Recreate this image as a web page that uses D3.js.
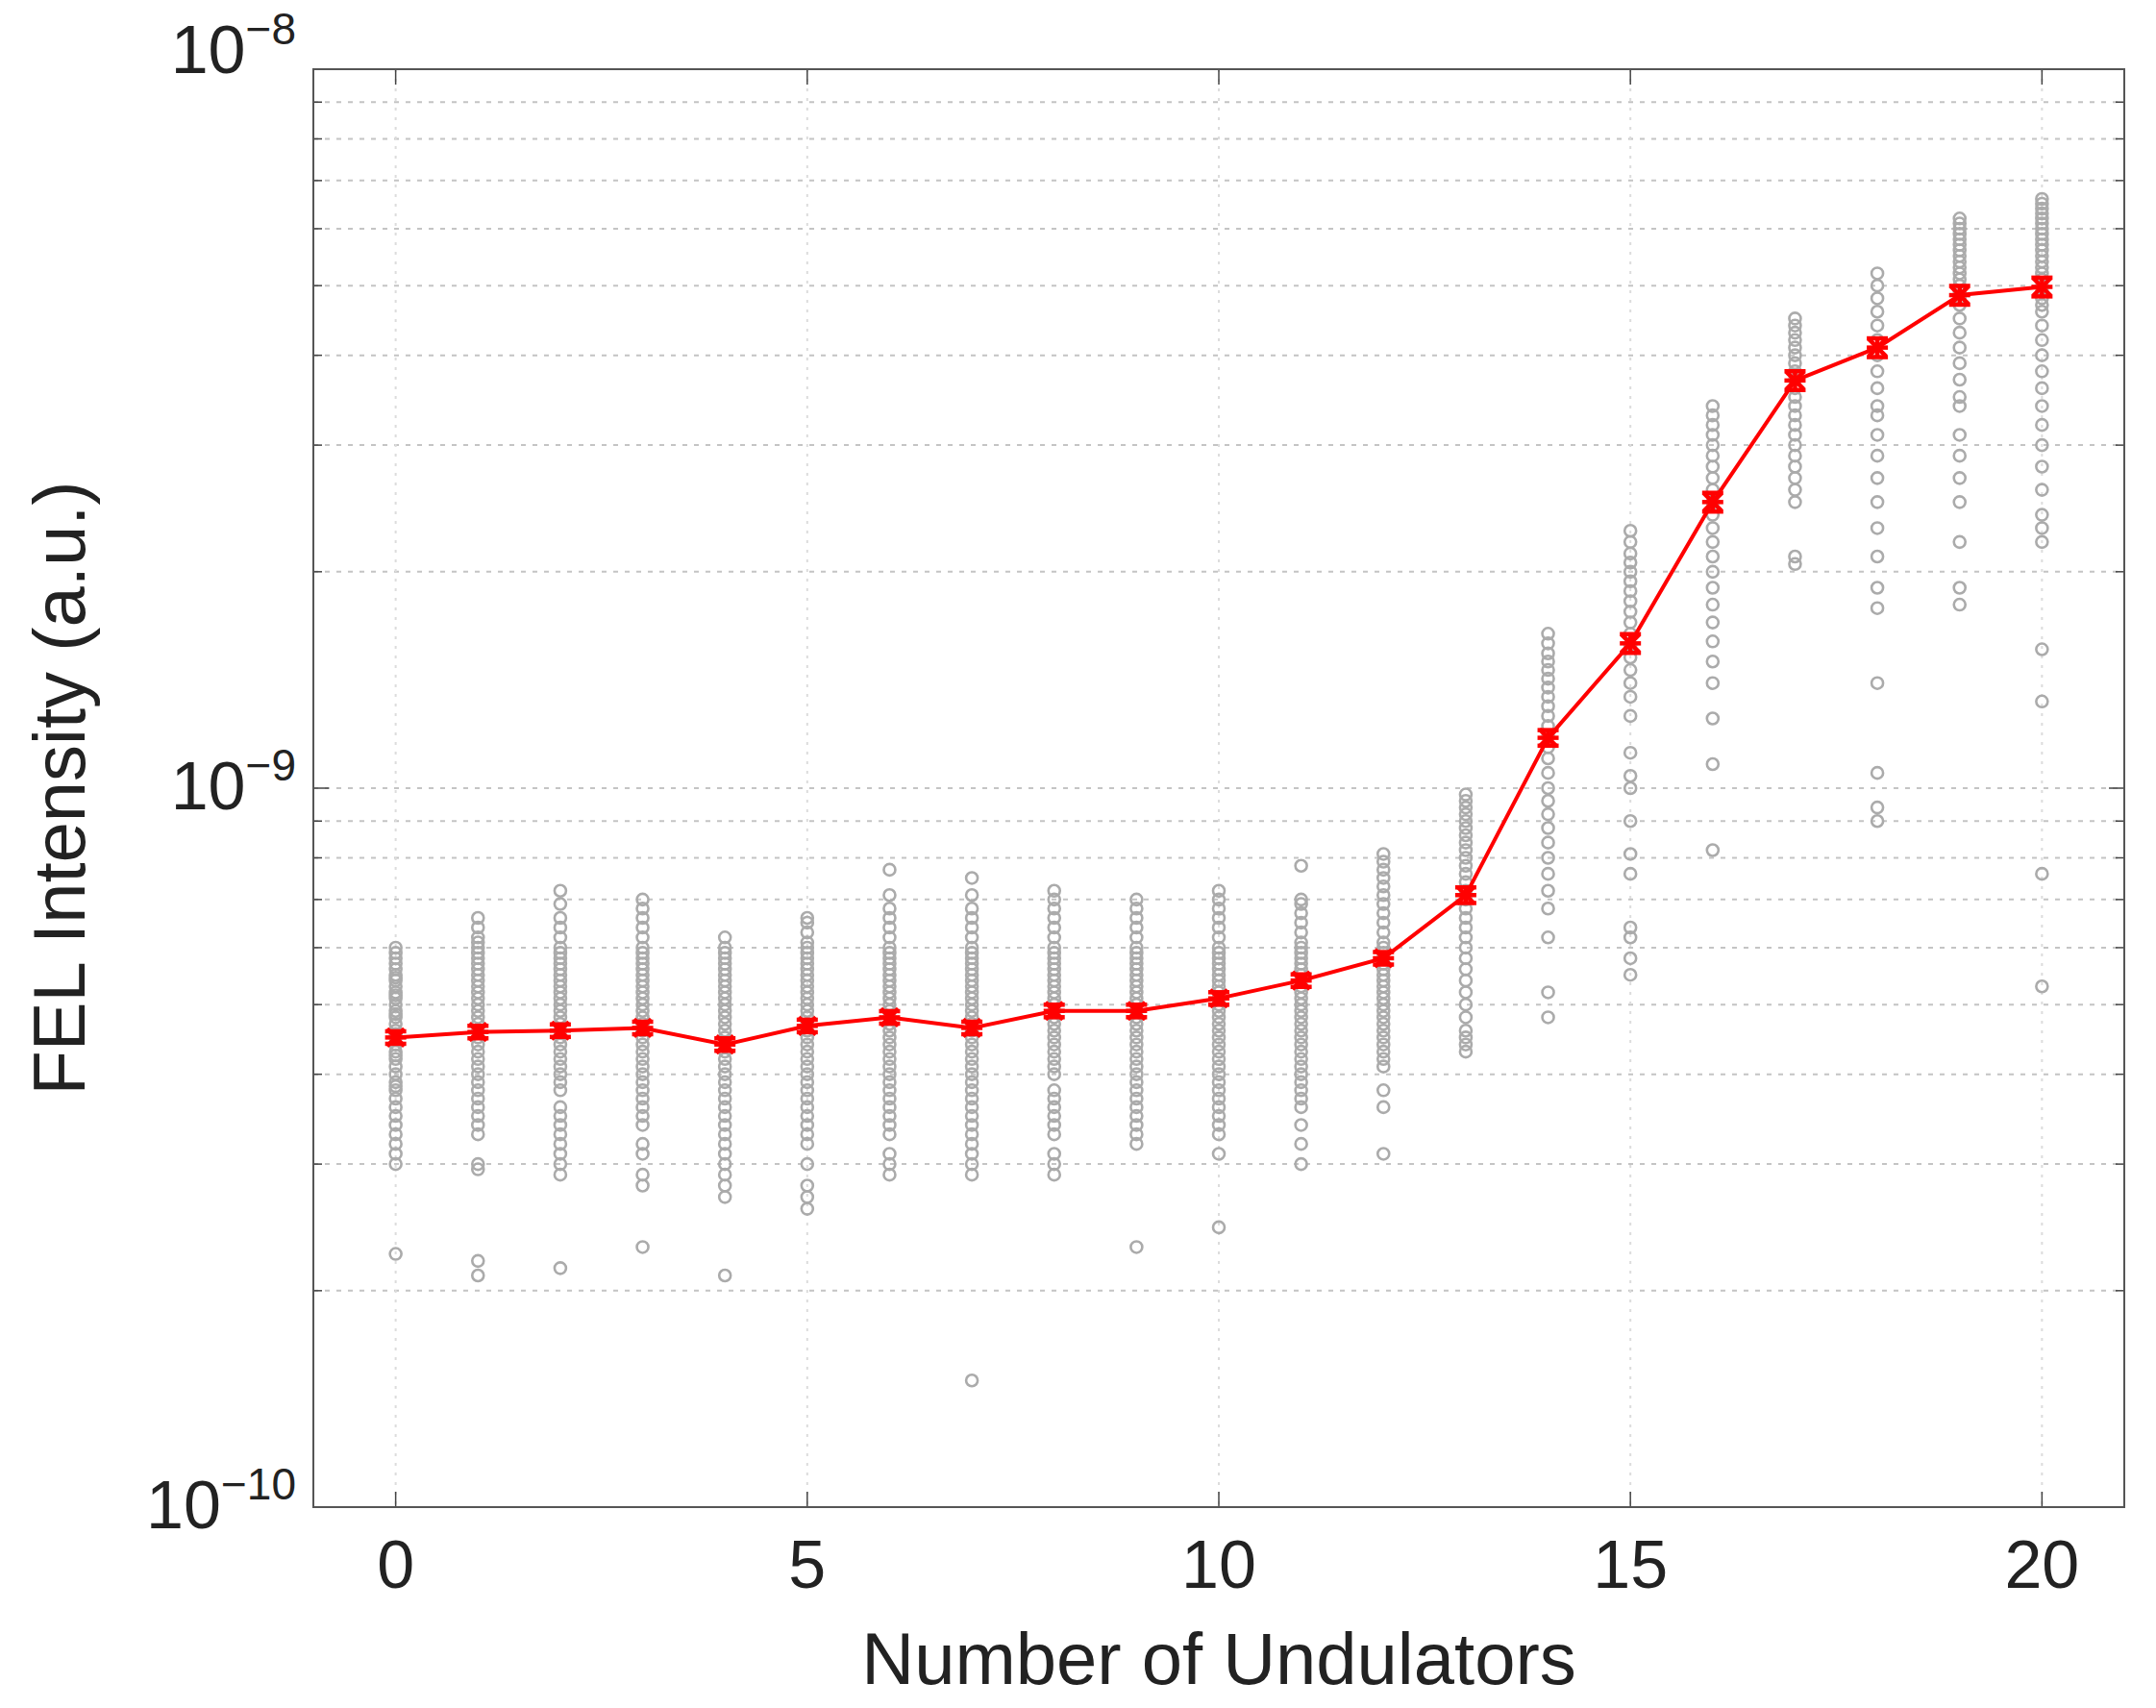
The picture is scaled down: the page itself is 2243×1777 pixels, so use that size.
<!DOCTYPE html><html><head><meta charset="utf-8">
<script src="https://cdn.jsdelivr.net/npm/d3@7"></script>
<style>body{margin:0;background:#fff}text{font-family:"Liberation Sans",Arial,sans-serif;fill:#222}</style></head><body>
<svg id="c" width="2243" height="1777"></svg>
<script>
const undulators=[0,1,2,3,4,5,6,7,8,9,10,11,12,13,14,15,16,17,18,19,20];
const meanIntensity=[4.5e-10,4.58e-10,4.6e-10,4.64e-10,4.4e-10,4.67e-10,4.8e-10,4.64e-10,4.9e-10,4.9e-10,5.1e-10,5.4e-10,5.8e-10,7.1e-10,1.175e-9,1.59e-9,2.5e-9,3.69e-9,4.1e-9,4.85e-9,4.98e-9];
const errFrac=[0.02,0.02,0.02,0.02,0.02,0.02,0.02,0.02,0.02,0.02,0.02,0.02,0.02,0.025,0.025,0.03,0.03,0.03,0.03,0.03,0.03];
// shot samples per undulator count, units of 1e-10
const shots=[
[6.0,5.9,5.8,5.7,5.6,5.5,5.45,5.4,5.3,5.2,5.15,5.1,5.0,4.9,4.85,4.8,4.7,4.6,4.55,4.5,4.4,4.3,4.25,4.2,4.1,4.0,3.9,3.85,3.8,3.7,3.6,3.5,3.4,3.3,3.2,3.1,3.0,2.25],
[6.6,6.4,6.2,6.1,6.0,5.9,5.8,5.7,5.6,5.5,5.4,5.3,5.2,5.1,5.0,4.9,4.8,4.7,4.6,4.5,4.4,4.3,4.2,4.1,4.0,3.9,3.8,3.7,3.6,3.5,3.4,3.3,3.0,2.95,2.2,2.1],
[7.2,6.9,6.6,6.4,6.2,6.0,5.9,5.8,5.7,5.6,5.5,5.4,5.3,5.2,5.1,5.0,4.9,4.8,4.7,4.6,4.5,4.4,4.3,4.2,4.1,4.0,3.9,3.8,3.6,3.5,3.4,3.3,3.2,3.1,3.0,2.9,2.15],
[7.0,6.8,6.6,6.4,6.2,6.0,5.9,5.8,5.7,5.6,5.5,5.4,5.3,5.2,5.1,5.0,4.9,4.8,4.7,4.6,4.5,4.4,4.3,4.2,4.1,4.0,3.9,3.8,3.7,3.6,3.5,3.4,3.2,3.1,2.9,2.8,2.3],
[6.2,6.0,5.9,5.8,5.7,5.6,5.5,5.4,5.3,5.2,5.1,5.0,4.9,4.8,4.7,4.6,4.5,4.4,4.3,4.2,4.1,4.0,3.9,3.8,3.7,3.6,3.5,3.4,3.3,3.2,3.1,3.0,2.9,2.8,2.7,2.1],
[6.6,6.5,6.3,6.1,6.0,5.9,5.8,5.7,5.6,5.5,5.4,5.3,5.2,5.1,5.0,4.9,4.8,4.7,4.6,4.5,4.4,4.3,4.2,4.1,4.0,3.9,3.8,3.7,3.6,3.5,3.4,3.3,3.2,3.0,2.8,2.7,2.6],
[7.7,7.1,6.8,6.6,6.4,6.2,6.0,5.9,5.8,5.7,5.6,5.5,5.4,5.3,5.2,5.1,5.0,4.9,4.8,4.7,4.6,4.5,4.4,4.3,4.2,4.1,4.0,3.9,3.8,3.7,3.6,3.5,3.4,3.3,3.1,3.0,2.9],
[7.5,7.1,6.8,6.6,6.4,6.2,6.0,5.9,5.8,5.7,5.6,5.5,5.4,5.3,5.2,5.1,5.0,4.9,4.8,4.7,4.6,4.5,4.4,4.3,4.2,4.1,4.0,3.9,3.8,3.7,3.6,3.5,3.4,3.3,3.2,3.1,3.0,2.9,1.5],
[7.2,7.0,6.8,6.6,6.4,6.2,6.0,5.9,5.8,5.7,5.6,5.5,5.4,5.3,5.2,5.1,5.0,4.9,4.8,4.7,4.6,4.5,4.4,4.3,4.2,4.1,4.0,3.8,3.7,3.6,3.5,3.4,3.3,3.1,3.0,2.9],
[7.0,6.8,6.6,6.4,6.2,6.0,5.9,5.8,5.7,5.6,5.5,5.4,5.3,5.2,5.1,5.0,4.9,4.8,4.7,4.6,4.5,4.4,4.3,4.2,4.1,4.0,3.9,3.8,3.7,3.6,3.5,3.4,3.3,3.2,2.3],
[7.2,7.0,6.8,6.6,6.4,6.2,6.0,5.9,5.8,5.7,5.6,5.5,5.4,5.3,5.2,5.1,5.0,4.9,4.8,4.7,4.6,4.5,4.4,4.3,4.2,4.1,4.0,3.9,3.8,3.7,3.6,3.5,3.4,3.3,3.1,2.45],
[7.8,7.0,6.9,6.7,6.5,6.3,6.1,6.0,5.9,5.8,5.7,5.6,5.5,5.4,5.3,5.2,5.1,5.0,4.9,4.8,4.7,4.6,4.5,4.4,4.3,4.2,4.1,4.0,3.9,3.8,3.7,3.6,3.4,3.2,3.0],
[8.1,7.9,7.7,7.5,7.3,7.1,6.9,6.7,6.5,6.3,6.1,6.0,5.9,5.8,5.7,5.6,5.5,5.4,5.3,5.2,5.1,5.0,4.9,4.8,4.7,4.6,4.5,4.4,4.3,4.2,4.1,3.8,3.6,3.1],
[9.8,9.6,9.4,9.2,9.0,8.8,8.6,8.4,8.2,8.0,7.8,7.6,7.4,7.2,7.0,6.8,6.6,6.4,6.2,6.0,5.8,5.6,5.4,5.2,5.0,4.8,4.6,4.5,4.4,4.3],
[16.4,15.9,15.4,15.0,14.6,14.2,13.8,13.4,13.0,12.6,12.2,11.8,11.4,11.0,10.5,10.0,9.6,9.2,8.8,8.4,8.0,7.6,7.2,6.8,6.2,5.2,4.8],
[22.8,22.0,21.2,20.6,20.0,19.4,18.8,18.2,17.6,17.0,16.4,15.8,15.2,14.6,14.0,13.4,12.6,11.2,10.4,10.0,9.0,8.1,7.6,6.4,6.2,5.8,5.5],
[34,33,32,31,30,29,28,27,26,25,24,23,22,21,20,19,18,17,16,15,14,12.5,10.8,8.2],
[45,44,43,42,41,40,39,38,37,36,35,34,33,32,31,30,29,28,27,26,25,21,20.5],
[52,50,48,46,44,42,40,38,36,34,33,31,29,27,25,23,21,19,17.8,14,10.5,9.4,9.0],
[62,61,60,59,58,57,56,55,54,53,52,51,50,49,48,47,45,43,41,39,37,35,34,31,29,27,25,22,19,18],
[66,65,64,63,62,61,60,59,58,57,56,55,54,53,52,51,50,49,48,47,46,44,42,40,38,36,34,32,30,28,26,24,23,22,15.6,13.2,7.6,5.3]
];
const xTicks=[0,5,10,15,20];
const yDecades=[-10,-9,-8];

const svg=d3.select("#c");
const L=326,R=2210,T=72,B=1568;
const x=d3.scaleLinear().domain([-1,21]).range([L,R]);
const y=d3.scaleLog().domain([1e-10,1e-8]).range([B,T]);

const minor=[];for(let d=-10;d<-8;d++)for(let k=1;k<10;k++)minor.push(k*Math.pow(10,d));minor.push(1e-8);
const g=svg.append("g");
g.selectAll(".hy").data(minor).join("line").attr("x1",L).attr("x2",R).attr("y1",d=>y(d)).attr("y2",d=>y(d))
 .attr("stroke","#c4c4c4").attr("stroke-width",2).attr("stroke-dasharray","5,7");
g.selectAll(".vx").data(xTicks).join("line").attr("y1",T).attr("y2",B).attr("x1",d=>x(d)).attr("x2",d=>x(d))
 .attr("stroke","#dcdcdc").attr("stroke-width",2).attr("stroke-dasharray","3,7");
minor.forEach(v=>{const len=(Math.abs(Math.log10(v)-Math.round(Math.log10(v)))<1e-9)?16:9;
 g.append("line").attr("x1",L).attr("x2",L+len).attr("y1",y(v)).attr("y2",y(v)).attr("stroke","#444").attr("stroke-width",1.5);
 g.append("line").attr("x1",R).attr("x2",R-len).attr("y1",y(v)).attr("y2",y(v)).attr("stroke","#444").attr("stroke-width",1.5);});
xTicks.forEach(v=>{g.append("line").attr("x1",x(v)).attr("x2",x(v)).attr("y1",B).attr("y2",B-16).attr("stroke","#444").attr("stroke-width",1.5);
 g.append("line").attr("x1",x(v)).attr("x2",x(v)).attr("y1",T).attr("y2",T+16).attr("stroke","#444").attr("stroke-width",1.5);});
svg.append("rect").attr("x",L).attr("y",T).attr("width",R-L).attr("height",B-T).attr("fill","none").attr("stroke","#555").attr("stroke-width",2);

const pts=[];shots.forEach((arr,i)=>arr.forEach(v=>pts.push([undulators[i],v*1e-10])));
svg.append("g").selectAll("circle").data(pts).join("circle").attr("cx",d=>x(d[0])).attr("cy",d=>y(d[1])).attr("r",6)
 .attr("fill","none").attr("stroke","#ababab").attr("stroke-width",2.6);

const md=undulators.map((u,i)=>[u,meanIntensity[i],errFrac[i]]);
svg.append("path").datum(md).attr("d",d3.line().x(d=>x(d[0])).y(d=>y(d[1]))).attr("fill","none").attr("stroke","#ff0000").attr("stroke-width",4);
const eg=svg.append("g").attr("stroke","#ff0000").attr("stroke-width",4.5);
md.forEach(d=>{const y1=y(d[1]*(1+d[2])),y2=y(d[1]*(1-d[2])),cx=x(d[0]);
 eg.append("line").attr("x1",cx).attr("x2",cx).attr("y1",y1).attr("y2",y2);
 eg.append("line").attr("x1",cx-11).attr("x2",cx+11).attr("y1",y1).attr("y2",y1);
 eg.append("line").attr("x1",cx-11).attr("x2",cx+11).attr("y1",y2).attr("y2",y2);
 const cy=y(d[1]);
 [[-9,-9,9,9],[-9,9,9,-9],[-11,0,11,0]].forEach(s=>eg.append("line").attr("x1",cx+s[0]).attr("y1",cy+s[1]).attr("x2",cx+s[2]).attr("y2",cy+s[3]));
});

svg.selectAll(".xt").data(xTicks).join("text").attr("x",d=>x(d)).attr("y",1652).attr("text-anchor","middle").attr("font-size",70).text(d=>d);
yDecades.forEach(dc=>{const t=svg.append("text").attr("x",308).attr("y",y(Math.pow(10,dc))+ (dc===-8?4:22)).attr("text-anchor","end").attr("font-size",70);
 t.append("tspan").text("10");t.append("tspan").attr("dy",-30).attr("font-size",46).text("\u2212"+Math.abs(dc));});
svg.append("text").attr("x",(L+R)/2).attr("y",1752).attr("text-anchor","middle").attr("font-size",76).text("Number of Undulators");
svg.append("text").attr("transform",`translate(88,${(T+B)/2}) rotate(-90)`).attr("text-anchor","middle").attr("font-size",76).text("FEL Intensity (a.u.)");
</script></body></html>
